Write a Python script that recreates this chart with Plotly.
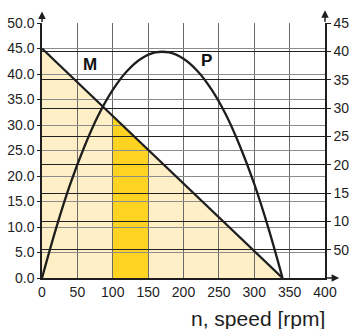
import numpy as np
import plotly.graph_objects as go

# Torque line M [Nm] vs speed n [rpm]
m_speed = [0, 340]
m_torque = [45.0, 0.0]

# Power curve P [W] vs speed n [rpm]
p_speed = [0, 20, 40, 60, 80, 100, 120, 140, 160, 180, 200, 220, 240, 260, 280, 300, 320, 340]
p_power = [0, 88, 166, 232, 288, 332, 365, 387, 398, 398, 387, 365, 332, 288, 232, 166, 88, 0]

# Highlighted operating band
band_speed = [100, 150]

# Axis ticks
x_ticks = [0, 50, 100, 150, 200, 250, 300, 350, 400]
left_ticks = [0, 5, 10, 15, 20, 25, 30, 35, 40, 45, 50]
right_ticks = [50, 100, 150, 200, 250, 300, 350, 400, 450]

band_torque = list(np.interp(band_speed, m_speed, m_torque))

FONT = "Liberation Sans, Arial, sans-serif"
INK = "#1e1e1e"

fig = go.Figure()

# area under the torque line (bottom subplot, so the grid of the upper one shows on top)
fig.add_trace(go.Scatter(x=m_speed, y=m_torque, mode="lines", fill="tozeroy",
                         fillcolor="#FFEFC6", line=dict(width=0),
                         xaxis="x", yaxis="y", hoverinfo="skip"))
fig.add_trace(go.Scatter(x=band_speed, y=band_torque, mode="lines", fill="tozeroy",
                         fillcolor="#FFD322", line=dict(width=0),
                         xaxis="x", yaxis="y", hoverinfo="skip"))

# torque and power lines
fig.add_trace(go.Scatter(x=m_speed, y=m_torque, mode="lines",
                         line=dict(color=INK, width=2.3),
                         xaxis="x2", yaxis="y2"))
fig.add_trace(go.Scatter(x=p_speed, y=p_power, mode="lines", line_shape="spline",
                         line=dict(color=INK, width=2.3),
                         xaxis="x2", yaxis="y3"))

fig.update_layout(
    width=349, height=329,
    margin=dict(l=42, r=24, t=23, b=51),
    paper_bgcolor="white",
    plot_bgcolor="rgba(0,0,0,0)",
    showlegend=False,
    font=dict(family=FONT, color=INK, size=14),
    xaxis=dict(range=[0, 400], domain=[0, 1], anchor="y", automargin=False,
               showgrid=False, showticklabels=False, zeroline=False, showline=False),
    yaxis=dict(range=[0, 50], domain=[0, 1], anchor="x", automargin=False,
               showgrid=False, showticklabels=False, zeroline=False, showline=False),
    xaxis2=dict(range=[0, 400], domain=[0, 1], anchor="y2", automargin=False,
                tickvals=x_ticks, ticks="", showgrid=True, gridcolor="#6a6a6a", gridwidth=1,
                zeroline=False, showline=True, linecolor=INK, linewidth=1.5,
                tickfont=dict(size=14), layer="above traces"),
    yaxis2=dict(range=[0, 50], domain=[0, 1], anchor="x2", automargin=False,
                tickvals=left_ticks, tickformat=".1f", ticks="outside", ticklen=3,
                tickcolor=INK, showgrid=True, gridcolor="#8c8c8c", gridwidth=1.2,
                zeroline=False, showline=True, linecolor=INK, linewidth=1.5,
                tickfont=dict(size=14), layer="above traces"),
    yaxis3=dict(range=[0, 450], overlaying="y2", side="right", anchor="x2", automargin=False,
                tickvals=right_ticks, ticks="outside", ticklen=4, tickcolor=INK,
                showgrid=True, gridcolor="#222222", gridwidth=1.1,
                zeroline=False, showline=True, linecolor=INK, linewidth=1.5,
                tickfont=dict(size=14), layer="above traces"),
)

arrow = dict(xref="paper", yref="paper", text="", showarrow=True,
             arrowhead=2, arrowsize=1, arrowwidth=1.5, arrowcolor=INK, axref="pixel", ayref="pixel")
annotations = [
    dict(x=0, y=1.045, ax=0, ay=12, **arrow),
    dict(x=1, y=1.05, ax=0, ay=13, **arrow),
    dict(x=1.05, y=0, ax=-15, ay=0, **arrow),
    dict(x=68, y=41.8, xref="x2", yref="y2", text="<b>M</b>", showarrow=False,
         font=dict(size=17, color="#111111", family=FONT)),
    dict(x=233, y=42.7, xref="x2", yref="y2", text="<b>P</b>", showarrow=False,
         font=dict(size=17, color="#111111", family=FONT)),
    dict(x=0.763, y=-0.157, xref="paper", yref="paper", xanchor="center", yanchor="middle",
         text="n, speed [rpm]", showarrow=False,
         font=dict(size=21, color=INK, family=FONT)),
]
fig.update_layout(annotations=annotations)

fig.write_html("out.html")
